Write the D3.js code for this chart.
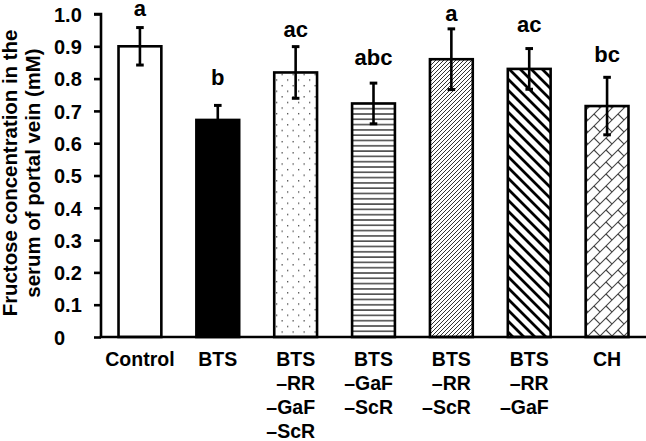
<!DOCTYPE html>
<html><head><meta charset="utf-8">
<script src="https://cdn.jsdelivr.net/npm/d3@7"></script>
<style>body{margin:0;background:#fff}svg{display:block}text{font-family:"Liberation Sans",Arial,sans-serif;font-weight:bold;fill:#000}</style>
</head><body><svg id="c" width="646" height="441"></svg>
<script>
const categories = ["Control", "BTS", "BTS\n–RR\n–GaF\n–ScR", "BTS\n–GaF\n–ScR", "BTS\n–RR\n–ScR", "BTS\n–RR\n–GaF", "CH"];
const means = [0.90, 0.672, 0.819, 0.723, 0.860, 0.830, 0.715];
const errors = [0.058, 0.045, 0.080, 0.063, 0.094, 0.063, 0.089];
const letters = ["a", "b", "ac", "abc", "a", "ac", "bc"];
const letterLevels = [0.994, 0.780, 0.929, 0.842, 0.978, 0.944, 0.851];
const fills = ["none", "solid", "dots", "hlines", "fineDiag", "boldDiag", "brick"];
const yTicks = [0, 0.1, 0.2, 0.3, 0.4, 0.5, 0.6, 0.7, 0.8, 0.9, 1.0];
const yTickLabels = ["0", "0.1", "0.2", "0.3", "0.4", "0.5", "0.6", "0.7", "0.8", "0.9", "1.0"];
const yTitle = ["Fructose concentration in the", "serum of portal vein (mM)"];

const svg = d3.select("#c");
const defs = svg.append("defs");
// patterns
const pDots = defs.append("pattern").attr("id","dots").attr("patternUnits","userSpaceOnUse").attr("width",11).attr("height",11.2);
pDots.append("rect").attr("width",11).attr("height",11.2).attr("fill","#fff");
pDots.append("rect").attr("x",1).attr("y",1).attr("width",1.3).attr("height",1.3).attr("fill","#444");
pDots.append("rect").attr("x",6.5).attr("y",6.6).attr("width",1.3).attr("height",1.3).attr("fill","#444");
const pH = defs.append("pattern").attr("id","hlines").attr("patternUnits","userSpaceOnUse").attr("width",10).attr("height",5.3);
pH.append("rect").attr("width",10).attr("height",5.3).attr("fill","#fff");
pH.append("rect").attr("y",2).attr("width",10).attr("height",1.4).attr("fill","#333");
const pF = defs.append("pattern").attr("id","fineDiag").attr("patternUnits","userSpaceOnUse").attr("width",4).attr("height",4);
pF.append("rect").attr("width",4).attr("height",4).attr("fill","#fff");
pF.append("path").attr("d","M-1,5 L5,-1 M-3,3 L3,-3 M1,7 L7,1").attr("stroke","#333").attr("stroke-width",1);
const pB = defs.append("pattern").attr("id","boldDiag").attr("patternUnits","userSpaceOnUse").attr("width",11).attr("height",11);
pB.append("rect").attr("width",11).attr("height",11).attr("fill","#fff");
pB.append("path").attr("d","M-2,-2 L13,13 M-13,-2 L2,13 M9,-2 L24,13").attr("stroke","#000").attr("stroke-width",2.8);
const T = 12;
const pK = defs.append("pattern").attr("id","brick").attr("patternUnits","userSpaceOnUse").attr("width",T).attr("height",T);
pK.append("rect").attr("width",T).attr("height",T).attr("fill","#fff");
pK.append("path").attr("d",`M-1,${T+1} L${T+1},-1 M${T/2},${T/2} L${T+1},${T+1} M-1,1 L1,-1`).attr("stroke","#444").attr("stroke-width",1.1).attr("fill","none");

const fillOf = f => f === "none" ? "#fff" : f === "solid" ? "#000" : `url(#${f})`;

const x = d3.scaleBand().domain(categories).range([101, 646]).paddingInner(0.45).paddingOuter(0.225);
const y = d3.scaleLinear().domain([0, 1.0]).range([337, 14]);

// y axis (labels left-aligned as in the reference)
const yAxis = d3.axisLeft(y).tickValues(yTicks).tickFormat((d,i)=>yTickLabels[i]).tickSize(7).tickPadding(40);
const gy = svg.append("g").attr("transform","translate(101,0)").call(yAxis);
gy.select(".domain").attr("stroke","#000").attr("stroke-width",2.6).attr("d",`M-7,${y(1)}H0V${y(0)}`);
gy.selectAll(".tick line").attr("stroke","#000").attr("stroke-width",2.6);
gy.selectAll(".tick text").attr("text-anchor","start").style("font-size","20px").style("font-family","Liberation Sans, Arial, sans-serif").style("font-weight","bold").attr("fill","#000").attr("dy","0.36em");

// bars
const data = categories.map((c,i)=>({c, m:means[i], e:errors[i], l:letters[i], lv:letterLevels[i], f:fills[i]}));
const bars = svg.append("g");
bars.selectAll("rect").data(data).join("rect")
  .attr("x", d=>x(d.c)).attr("width", x.bandwidth())
  .attr("y", d=>y(d.m)).attr("height", d=>y(0)-y(d.m))
  .attr("fill", d=>fillOf(d.f)).attr("stroke","#000").attr("stroke-width",2.6);

// x axis line
svg.append("line").attr("x1",101-1.3).attr("x2",646).attr("y1",y(0)).attr("y2",y(0)).attr("stroke","#000").attr("stroke-width",2.6);

// error bars
const eg = svg.append("g").attr("stroke","#000");
data.forEach(d=>{
  const cx = x(d.c)+x.bandwidth()/2;
  eg.append("line").attr("x1",cx).attr("x2",cx).attr("y1",y(d.m+d.e)).attr("y2",y(d.m-d.e)).attr("stroke-width",2.6);
  [d.m+d.e, d.m-d.e].forEach(v=>eg.append("line").attr("x1",cx-3.8).attr("x2",cx+3.8).attr("y1",y(v)).attr("y2",y(v)).attr("stroke-width",3));
});

// letters
svg.append("g").selectAll("text").data(data).join("text")
  .attr("x", d=>x(d.c)+x.bandwidth()/2).attr("y", d=>y(d.lv))
  .attr("text-anchor","middle").style("font-size","22px").text(d=>d.l);

// x labels
data.forEach(d=>{
  const cx = x(d.c)+x.bandwidth()/2;
  const lines = d.c.split("\n");
  const g = svg.append("g");
  const first = g.append("text").attr("x",cx).attr("y",366).attr("text-anchor","middle").style("font-size","19.5px").text(lines[0]);
  const right = cx + first.node().getComputedTextLength()/2;
  lines.slice(1).forEach((t,j)=>{
    g.append("text").attr("x",right).attr("y",366+24*(j+1)).attr("text-anchor","end").style("font-size","19.5px").text(t);
  });
});

// y title
const yt = svg.append("g").attr("transform","translate(0,173) rotate(-90)");
yTitle.forEach((t,i)=>yt.append("text").attr("x",0).attr("y",17+23*i).attr("text-anchor","middle").style("font-size","20.4px").text(t));
</script></body></html>
